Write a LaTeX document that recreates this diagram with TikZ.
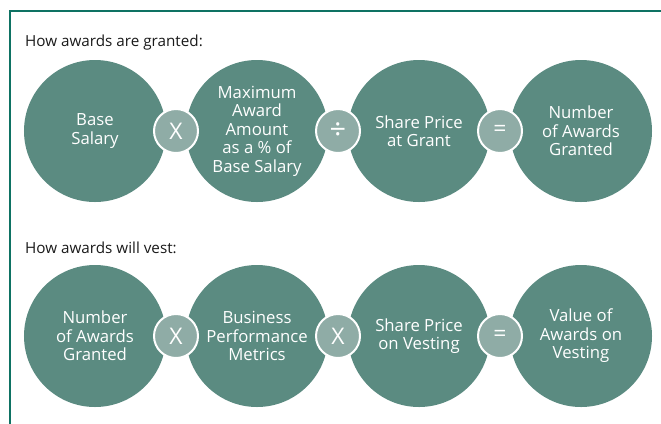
\documentclass[tikz,border=0pt]{standalone}
\usepackage{fontspec}
\setmainfont{Open Sans}
\definecolor{bigc}{HTML}{5B8B81}
\definecolor{smallc}{HTML}{8FACA6}
\definecolor{borderc}{HTML}{0E7263}
\definecolor{headc}{HTML}{1A1A1A}
\begin{document}
\begin{tikzpicture}[x=1bp,y=-1bp,
  big/.style={circle,fill=bigc,minimum size=142bp,inner sep=0pt,text=white,align=center,
    font=\fontsize{16.8}{18.5}\selectfont},
  op/.style={circle,fill=smallc,draw=white,line width=2bp,minimum size=44bp,inner sep=0pt,text=white,
    font=\fontsize{23}{23}\selectfont},
  head/.style={anchor=west,inner sep=0pt,text=headc,font=\fontsize{15.3}{17}\selectfont}]
\useasboundingbox (0,0) rectangle (661,423);
\draw[borderc,line width=2bp] (10,424) -- (10,11) -- (662,11);
\node[head] (h1) at (25,43) {How awards are granted:};
\node[head] (h2) at (25,248) {How awards will vest:};
% row 1
\node[big] (a1) at (95,131) {Base\\Salary};
\node[big] (a2) at (257,131) {Maximum\\Award\\Amount\\as a \% of\\Base Salary};
\node[big] (a3) at (419,131) {Share Price\\at Grant};
\node[big] (a4) at (581,131) {Number\\of Awards\\Granted};
\node[op] (o1) at (176,131) {X};
\node[op,font=\fontsize{29}{29}\selectfont] (o2) at (338,131) {÷};
\node[op] (o3) at (500,131) {=};
% row 2
\node[big] (b1) at (95,336) {Number\\of Awards\\Granted};
\node[big] (b2) at (257,336) {Business\\Performance\\Metrics};
\node[big] (b3) at (419,336) {Share Price\\on Vesting};
\node[big] (b4) at (581,336) {Value of\\Awards on\\Vesting};
\node[op] (p1) at (176,336) {X};
\node[op] (p2) at (338,336) {X};
\node[op] (p3) at (500,336) {=};
\end{tikzpicture}
\end{document}
